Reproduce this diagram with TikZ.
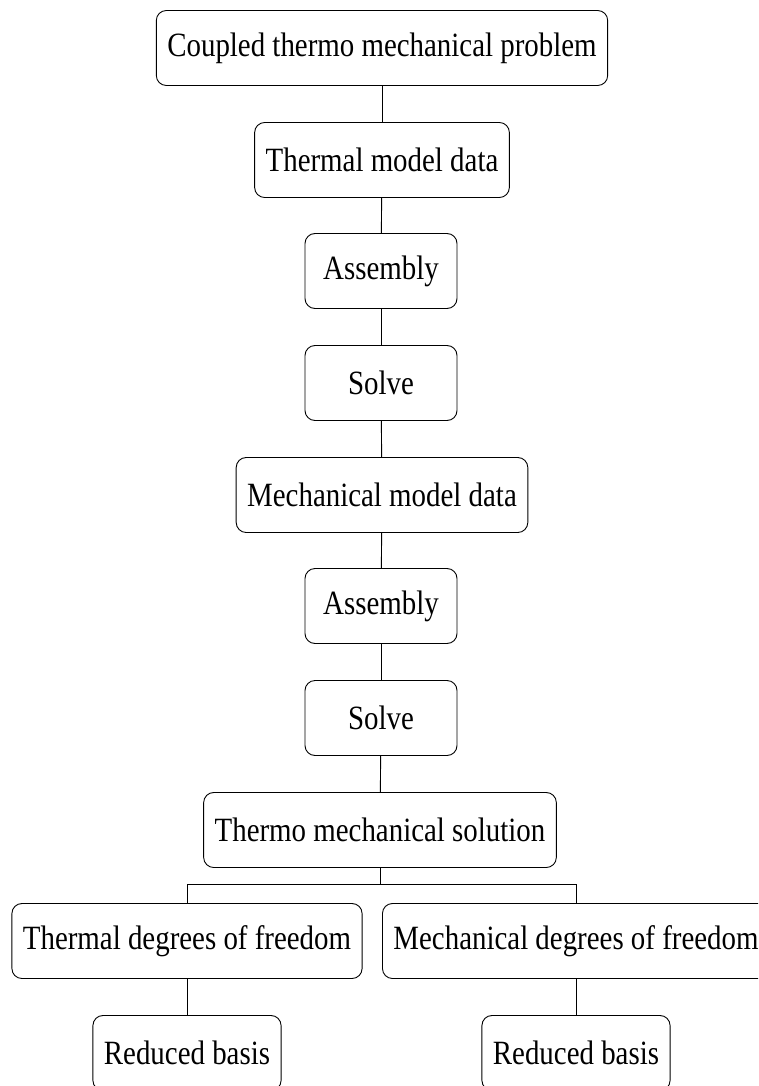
\documentclass[tikz,border=0pt]{standalone}
\usepackage{fontspec}
\setmainfont[FakeStretch=0.85]{Liberation Serif}
\begin{document}
\begin{tikzpicture}[x=1pt,y=-1pt,
  stage/.style={draw, line width=0.9pt, rounded corners=10pt,
    minimum height=75pt, minimum width=152pt, inner xsep=11pt,
    font=\fontsize{34}{40}\selectfont},
  link/.style={line width=0.9pt}]
\useasboundingbox (0,0) rectangle (758,1086);
\clip (0,0) rectangle (758,1086);

% main chain
\node[stage] (prob)  at (382,48)  {Coupled thermo mechanical problem};
\node[stage] (tdata) at (382,160) {Thermal model data};
\node[stage] (tasm)  at (381,271) {Assembly};
\node[stage] (tsol)  at (381,383) {Solve};
\node[stage] (mdata) at (382,495) {Mechanical model data};
\node[stage] (masm)  at (381,606) {Assembly};
\node[stage] (msol)  at (381,718) {Solve};
\node[stage] (sol)   at (380,830) {Thermo mechanical solution};

% split into the two fields
\node[stage] (tdof) at (187,941) {Thermal degrees of freedom};
\node[stage] (mdof) at (576,941) {Mechanical degrees of freedom};
\node[stage] (trb)  at (187,1053) {Reduced basis};
\node[stage] (mrb)  at (576,1053) {Reduced basis};

\draw[link] (prob) -- (tdata);
\draw[link] (tdata) -- (tasm);
\draw[link] (tasm) -- (tsol);
\draw[link] (tsol) -- (mdata);
\draw[link] (mdata) -- (masm);
\draw[link] (masm) -- (msol);
\draw[link] (msol) -- (sol);

\path (sol.south) ++(0,16) coordinate (fork);
\draw[link] (sol.south) -- (fork) -| (tdof.north);
\draw[link] (fork) -| (mdof.north);
\draw[link] (tdof) -- (trb);
\draw[link] (mdof) -- (mrb);
\end{tikzpicture}
\end{document}
